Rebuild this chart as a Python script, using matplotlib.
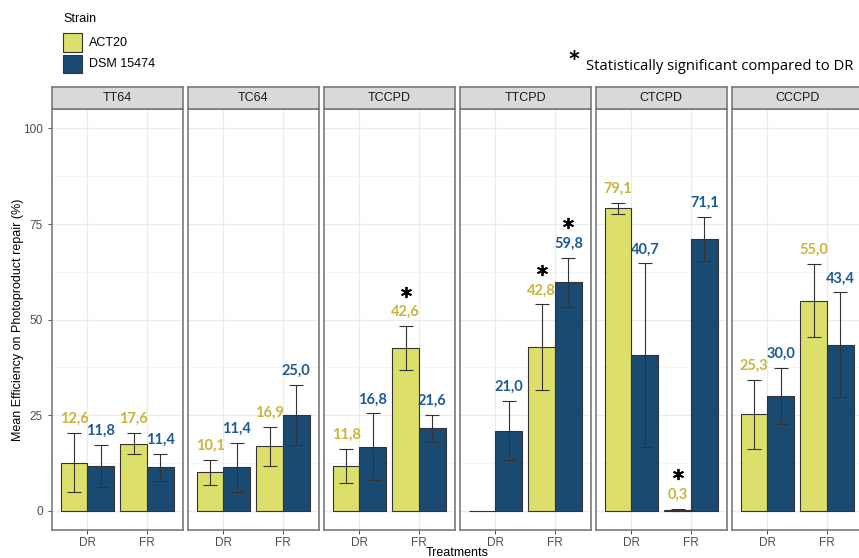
import matplotlib
matplotlib.use("Agg")
import matplotlib.pyplot as plt
from matplotlib.patches import Rectangle

# data
panels = ["TT64", "TC64", "TCCPD", "TTCPD", "CTCPD", "CCCPD"]
treatments = ["DR", "FR"]
strains = ["ACT20", "DSM 15474"]

# mean per panel: [DR, FR]
act20_mean = [[12.6, 17.6], [10.1, 16.9], [11.8, 42.6], [0.0, 42.8], [79.1, 0.3], [25.3, 55.0]]
dsm_mean = [[11.8, 11.4], [11.4, 25.0], [16.8, 21.6], [21.0, 59.8], [40.7, 71.1], [30.0, 43.4]]

# error (+/-) per panel: [DR, FR]
act20_err = [[7.7, 2.8], [3.3, 5.1], [4.4, 5.7], [0.0, 11.2], [1.4, 0.3], [9.0, 9.6]]
dsm_err = [[5.5, 3.6], [6.4, 7.9], [8.7, 3.5], [7.8, 6.4], [24.0, 5.7], [7.4, 13.7]]

# significance stars
act20_sig = [[False, False], [False, False], [False, True], [False, True], [False, True], [False, False]]
dsm_sig = [[False, False], [False, False], [False, False], [False, True], [False, False], [False, False]]

yticks = [0, 25, 50, 75, 100]

bar_cols = ["#DCE06A", "#1A4A72"]
txt_cols = ["#C9B53A", "#1F5A93"]

plt.rcParams["font.family"] = ["Liberation Sans", "DejaVu Sans"]

W, H = 859, 558
fig = plt.figure(figsize=(W / 100, H / 100), dpi=100)


def fx(px):
    return px / W


def fy(px):
    return 1 - px / H


left0 = 51.7
pw = 131.0
step = 136.0
top_px, bot_px = 109.3, 530.0
strip_top = 86.7

for i, name in enumerate(panels):
    x0 = left0 + i * step
    ax = fig.add_axes([fx(x0), fy(bot_px), fx(pw), fy(top_px) - fy(bot_px)])
    ax.set_xlim(-0.6, 1.6)
    ax.set_ylim(-5, 105)

    # grid
    for y in yticks:
        ax.axhline(y, color="#EBEBEB", lw=0.9, zorder=0)
    for y in [12.5, 37.5, 62.5, 87.5]:
        ax.axhline(y, color="#F4F4F4", lw=0.6, zorder=0)
    for x in range(len(treatments)):
        ax.axvline(x, color="#EBEBEB", lw=0.9, zorder=0)

    groups = [(act20_mean, act20_err, act20_sig), (dsm_mean, dsm_err, dsm_sig)]
    for s, (means, errs, sigs) in enumerate(groups):
        off = -0.225 if s == 0 else 0.225
        for t in range(len(treatments)):
            m = means[i][t]
            e = errs[i][t]
            xb = t + off
            ax.bar(xb, m, width=0.45, color=bar_cols[s], edgecolor="#333333",
                   linewidth=0.8, zorder=2)
            if m > 0:
                ax.errorbar(xb, m, yerr=e, fmt="none", ecolor="#333333",
                            elinewidth=0.8, capsize=5, capthick=0.8, zorder=3)
                ax.annotate(f"{m:.1f}".replace(".", ","), (xb, m + e),
                            xytext=(0, 5), textcoords="offset points",
                            ha="center", va="bottom", fontsize=10.5,
                            fontweight="bold", color=txt_cols[s],
                            family=["Lato", "DejaVu Sans"])
            if sigs[i][t]:
                # asterisk drawn as a marker above the label
                ax.plot(xb, m + e + 9, marker=(6, 2, 0), markersize=8,
                        markeredgewidth=1.3, color="black", zorder=4)

    ax.set_xticks(range(len(treatments)))
    ax.set_xticklabels(treatments, fontsize=8.5, color="#4D4D4D")
    ax.set_yticks(yticks)
    if i == 0:
        ax.set_yticklabels([str(v) for v in yticks], fontsize=8.5, color="#4D4D4D")
        ax.tick_params(axis="y", length=3, color="#333333", width=0.6)
    else:
        ax.set_yticklabels([])
        ax.tick_params(axis="y", length=0)
    ax.tick_params(axis="x", length=3, color="#333333", width=0.6, pad=2)
    for sp in ax.spines.values():
        sp.set_color("#7A7A7A")
        sp.set_linewidth(1.2)

    # strip
    sax = fig.add_axes([fx(x0), fy(top_px), fx(pw), fy(strip_top) - fy(top_px)])
    sax.set_xticks([])
    sax.set_yticks([])
    sax.set_facecolor("#D9D9D9")
    for sp in sax.spines.values():
        sp.set_color("#7A7A7A")
        sp.set_linewidth(1.2)
    sax.text(0.5, 0.5, name, ha="center", va="center", fontsize=9,
             color="#1A1A1A", transform=sax.transAxes)

# axis titles
fig.text(fx(18), fy((top_px + bot_px) / 2), "Mean Efficiency on Photoproduct repair (%)",
         rotation=90, ha="center", va="center", fontsize=9, color="black")
fig.text(fx(457), fy(553), "Treatments", ha="center", va="center", fontsize=9,
         color="black")

# legend
fig.text(fx(63), fy(19), "Strain", ha="left", va="center", fontsize=9)
for k, (lab, col) in enumerate(zip(strains, bar_cols)):
    ytop = 33.3 + k * 21.7
    fig.patches.append(Rectangle((fx(63), fy(ytop + 18.4)), fx(19), fy(ytop) - fy(ytop + 18.4),
                                 transform=fig.transFigure, facecolor=col,
                                 edgecolor="#333333", linewidth=0.8))
    fig.text(fx(89), fy(ytop + 9.2), lab, ha="left", va="center", fontsize=9)

# significance note
fig.text(fx(574), fy(78), "*", ha="center", va="bottom", fontsize=22,
         fontweight="bold", family=["Lato", "DejaVu Sans"])
fig.text(fx(586), fy(67), "Statistically significant compared to DR", ha="left",
         va="center", fontsize=10.6, family=["Open Sans", "DejaVu Sans"])

fig.savefig("out.png", dpi=100)
